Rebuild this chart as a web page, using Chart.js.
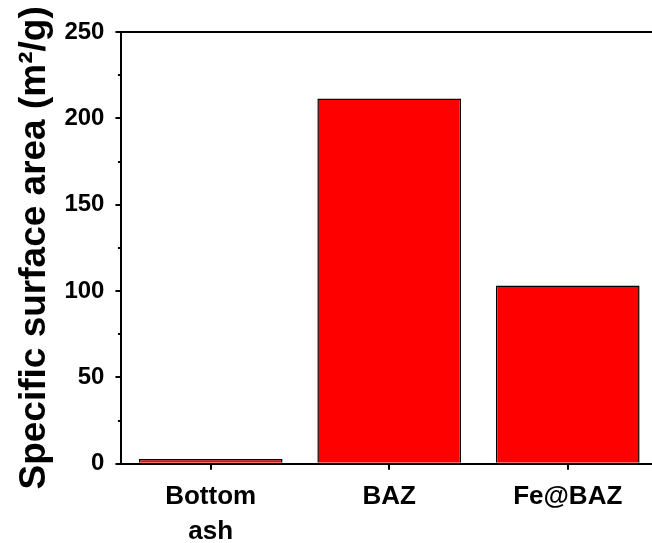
<!DOCTYPE html>
<html>
<head>
<meta charset="utf-8">
<script src="https://cdn.jsdelivr.net/npm/chart.js@4.4.1/dist/chart.umd.min.js"></script>
<style>
  html, body { margin: 0; padding: 0; background: #fff; overflow: hidden; }
  #wrap { position: relative; width: 657px; height: 558px; }
</style>
</head>
<body>
<div id="wrap"><canvas id="c"></canvas></div>
<script>
// Samples and their BET specific surface area (m²/g)
const categories = [['Bottom', 'ash'], 'BAZ', 'Fe@BAZ'];
const surfaceArea = [2.8, 211.5, 103.3];
const yTicks = [0, 50, 100, 150, 200, 250];
const yMinorTicks = [25, 75, 125, 175, 225];

const FONT = '"Liberation Sans", Arial, Helvetica, sans-serif';

// Short unlabelled ticks halfway between the labelled ones on the y axis
const minorTicks = {
  id: 'minorTicks',
  afterDraw(chart) {
    const y = chart.scales.y;
    const ctx = chart.ctx;
    ctx.save();
    ctx.strokeStyle = '#000';
    ctx.lineWidth = 2;
    yMinorTicks.forEach(v => {
      const py = Math.round(y.getPixelForValue(v));
      ctx.beginPath();
      ctx.moveTo(y.right - 3.5, py);
      ctx.lineTo(y.right, py);
      ctx.stroke();
    });
    ctx.restore();
  }
};

new Chart(document.getElementById('c'), {
  type: 'bar',
  data: {
    labels: categories,
    datasets: [{
      data: surfaceArea,
      backgroundColor: '#ff0000',
      borderColor: '#000',
      borderWidth: 1.5,
      barPercentage: 0.805,
      categoryPercentage: 1
    }]
  },
  options: {
    responsive: true,
    maintainAspectRatio: false,
    animation: false,
    devicePixelRatio: 1,
    layout: { padding: { top: 32, left: 0, right: 0, bottom: 0 } },
    plugins: { legend: { display: false }, tooltip: { enabled: false } },
    scales: {
      x: {
        type: 'category',
        offset: true,
        grid: {
          offset: false,
          drawOnChartArea: false,
          drawTicks: true,
          tickLength: 6,
          color: '#000',
          lineWidth: 2
        },
        border: { display: true, color: '#000', width: 2 },
        ticks: {
          color: '#000',
          padding: 9,
          maxRotation: 0,
          autoSkip: false,
          font: { family: FONT, size: 26, weight: 'bold', lineHeight: 1.35 }
        }
      },
      y: {
        min: 0,
        max: 250,
        afterBuildTicks: s => { s.ticks = yTicks.map(v => ({ value: v })); },
        grid: {
          drawOnChartArea: true,
          drawTicks: true,
          tickLength: 6,
          color: c => (c.tick && c.tick.value === 250 ? '#000' : 'rgba(0,0,0,0)'),
          tickColor: '#000',
          lineWidth: 2
        },
        border: { display: true, color: '#000', width: 2 },
        ticks: {
          color: '#000',
          padding: 11,
          font: { family: FONT, size: 24, weight: 'bold' }
        },
        title: {
          display: true,
          text: 'Specific surface area (m²/g)',
          color: '#000',
          padding: { top: 13, bottom: -4 },
          font: { family: FONT, size: 37, weight: 'bold' }
        }
      }
    }
  },
  plugins: [minorTicks]
});
</script>
</body>
</html>
